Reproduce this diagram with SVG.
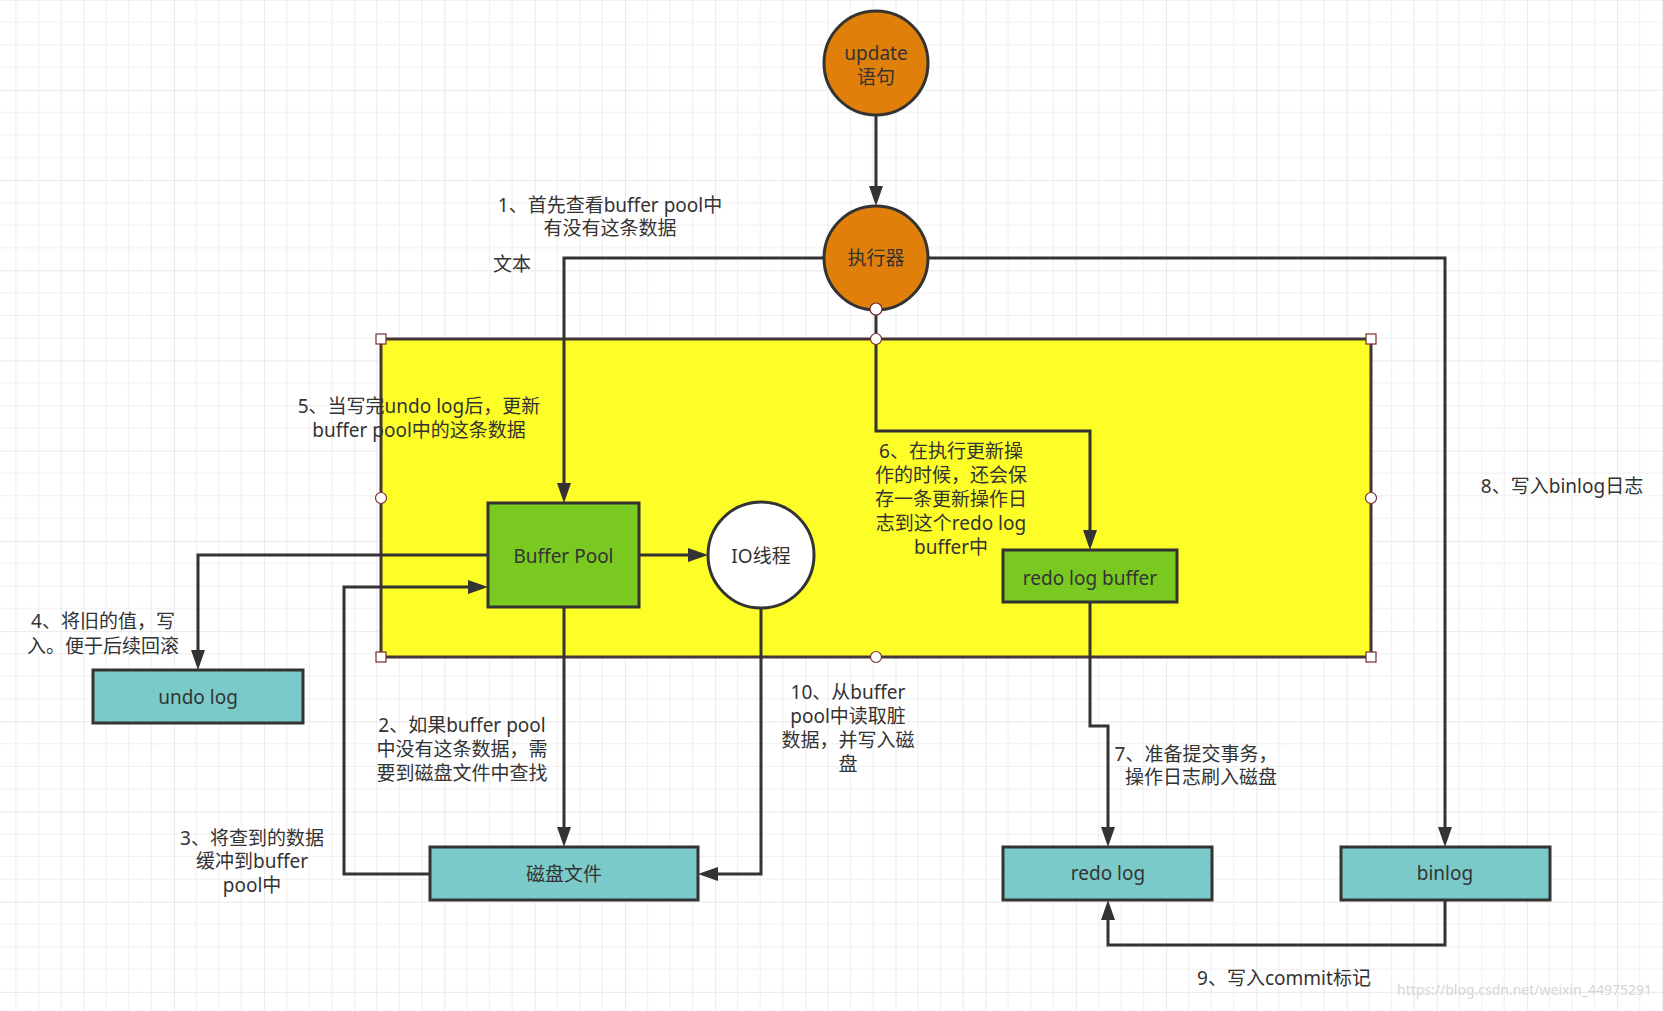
<svg xmlns="http://www.w3.org/2000/svg" width="1663" height="1011" viewBox="0 0 1663 1011">
<style>
  text { font-family: "Noto Sans", "Noto Sans CJK SC", sans-serif; font-size: 19px; fill: #333333; text-anchor: middle; }
  .conn { fill: none; stroke: #333333; stroke-width: 3; stroke-linejoin: miter; }
  .arr { marker-end: url(#arrow); }
  .orange { fill: #e0800a; stroke: #333333; stroke-width: 3; }
  .green { fill: #79c921; stroke: #333333; stroke-width: 3; }
  .teal { fill: #7bcaca; stroke: #333333; stroke-width: 3; }
  .white { fill: #ffffff; stroke: #333333; stroke-width: 3; }
  .hsq { fill: #ffffff; stroke: #7a2a2a; stroke-width: 1.2; }
  .hci { fill: #ffffff; stroke: #7a2a2a; stroke-width: 1.2; }
</style>
<defs>
  <pattern id="grid" patternUnits="userSpaceOnUse" x="-6.5" y="-0.3" width="90.2" height="90.2">
    <path d="M22.55 0V90.2M45.1 0V90.2M67.65 0V90.2M0 22.55H90.2M0 45.1H90.2M0 67.65H90.2" stroke="#efefef" stroke-width="1.2" fill="none"/>
    <path d="M0 0V90.2M0 0H90.2" stroke="#e4e4e4" stroke-width="1.6" fill="none"/>
  </pattern>
  <marker id="arrow" markerUnits="userSpaceOnUse" markerWidth="20" markerHeight="14" refX="15" refY="7" orient="auto">
    <path d="M0,0 L20,7 L0,14 z" fill="#333333"/>
  </marker>
</defs>
<rect x="0" y="0" width="1663" height="1011" fill="#ffffff"/>
<rect x="0" y="0" width="1663" height="1011" fill="url(#grid)"/>

<g id="container">
  <rect x="381" y="339" width="990" height="318" fill="#fdfd27" stroke="#463636" stroke-width="3"/>
</g>

<g id="connectors">
  <path class="conn arr" d="M876,115 V201"/>
  <path class="conn arr" d="M824,258 H564 V498"/>
  <path class="conn arr" d="M876,310 V431 H1090 V545"/>
  <path class="conn arr" d="M928,258 H1445 V842"/>
  <path class="conn arr" d="M639,555 H703"/>
  <path class="conn arr" d="M488,555 H198 V665"/>
  <path class="conn arr" d="M564,607 V842"/>
  <path class="conn arr" d="M430,874 H344 V587 H483"/>
  <path class="conn arr" d="M761,608 V874 H703"/>
  <path class="conn arr" d="M1090,602 V726 H1108 V842"/>
  <path class="conn arr" d="M1445,900 V945 H1108 V905"/>
</g>

<g id="update">
  <circle class="orange" cx="876" cy="63" r="52"/>
  <text x="876" y="60">update</text>
  <text x="876" y="84">语句</text>
</g>
<g id="executor">
  <circle class="orange" cx="876" cy="258" r="52"/>
  <text x="876" y="265">执行器</text>
</g>
<g id="buffer-pool">
  <rect class="green" x="488" y="503" width="151" height="104"/>
  <text x="563.5" y="563">Buffer Pool</text>
</g>
<g id="io-thread">
  <circle class="white" cx="761" cy="555" r="53"/>
  <text x="761" y="563">IO线程</text>
</g>
<g id="redo-log-buffer">
  <rect class="green" x="1003" y="550" width="174" height="52"/>
  <text x="1090" y="585">redo log buffer</text>
</g>
<g id="undo-log">
  <rect class="teal" x="93" y="670" width="210" height="53"/>
  <text x="198" y="704">undo log</text>
</g>
<g id="disk-file">
  <rect class="teal" x="430" y="847" width="268" height="53"/>
  <text x="564" y="881">磁盘文件</text>
</g>
<g id="redo-log">
  <rect class="teal" x="1003" y="847" width="209" height="53"/>
  <text x="1108" y="880">redo log</text>
</g>
<g id="binlog">
  <rect class="teal" x="1341" y="847" width="209" height="53"/>
  <text x="1445" y="880">binlog</text>
</g>

<g id="labels">
  <text x="610" y="212">1、首先查看buffer pool中</text>
  <text x="610" y="235">有没有这条数据</text>
  <text x="512" y="271">文本</text>
  <text x="419" y="413">5、当写完undo log后，更新</text>
  <text x="419" y="437">buffer pool中的这条数据</text>
  <text x="103" y="628">4、将旧的值，写</text>
  <text x="103" y="653">入。便于后续回滚</text>
  <text x="462" y="732">2、如果buffer pool</text>
  <text x="462" y="756">中没有这条数据，需</text>
  <text x="462" y="780">要到磁盘文件中查找</text>
  <text x="252" y="845">3、将查到的数据</text>
  <text x="252" y="868">缓冲到buffer</text>
  <text x="252" y="892">pool中</text>
  <text x="848" y="699">10、从buffer</text>
  <text x="848" y="723">pool中读取脏</text>
  <text x="848" y="747">数据，并写入磁</text>
  <text x="848" y="771">盘</text>
  <text x="951" y="458">6、在执行更新操</text>
  <text x="951" y="482">作的时候，还会保</text>
  <text x="951" y="506">存一条更新操作日</text>
  <text x="951" y="530">志到这个redo log</text>
  <text x="951" y="554">buffer中</text>
  <text x="1196" y="761">7、准备提交事务，</text>
  <text x="1201" y="784">操作日志刷入磁盘</text>
  <text x="1562" y="493">8、写入binlog日志</text>
  <text x="1284" y="985">9、写入commit标记</text>
  <text x="1652" y="995" style="font-size:14px;fill:#d6d6d6;text-anchor:end">https://blog.csdn.net/weixin_44975291</text>
</g>

<g id="handles">
  <rect class="hsq" x="376" y="334" width="10" height="10"/>
  <rect class="hsq" x="1366" y="334" width="10" height="10"/>
  <rect class="hsq" x="376" y="652" width="10" height="10"/>
  <rect class="hsq" x="1366" y="652" width="10" height="10"/>
  <circle class="hci" cx="876" cy="339" r="5.5"/>
  <circle class="hci" cx="381" cy="498" r="5.5"/>
  <circle class="hci" cx="1371" cy="498" r="5.5"/>
  <circle class="hci" cx="876" cy="657" r="5.5"/>
  <circle class="hci" cx="876" cy="309" r="6"/>
</g>
</svg>
